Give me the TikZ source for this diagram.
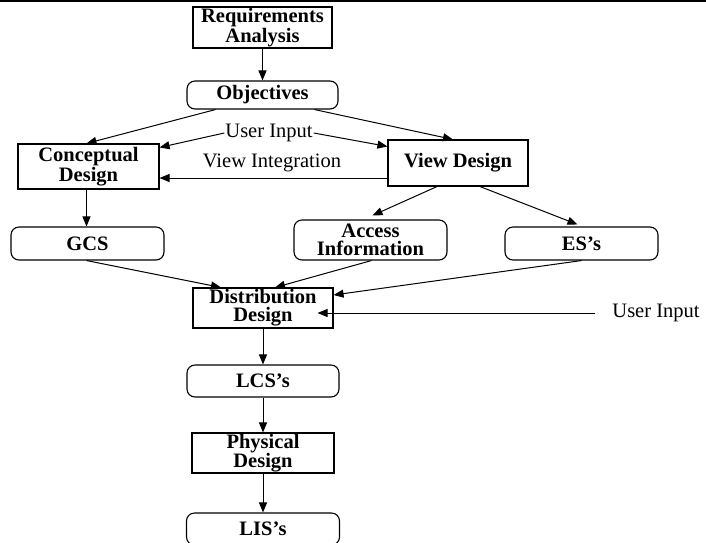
\documentclass[tikz,border=0pt]{standalone}
\usepackage{fontspec}
\setmainfont{Liberation Serif}
\usetikzlibrary{arrows.meta,calc}
\begin{document}
\begin{tikzpicture}[x=1pt,y=-1pt,
  box/.style={draw, line width=1.1pt, inner sep=0pt, align=center,
    font=\bfseries\fontsize{20.5}{18}\selectfont},
  rbox/.style={box, rounded corners=8pt},
  lbl/.style={font=\fontsize{20.5}{20.5}\selectfont, inner sep=1pt},
  arr/.style={-{Triangle[length=10pt,width=8pt]}, line width=1pt}]
\useasboundingbox (0,0) rectangle (706,542);
\draw[line width=2pt] (0,0.5) -- (706,0.5);

\node[box, minimum width=139pt, minimum height=41pt] (req) at (262.5,27.5) {Requirements\\Analysis};
\node[rbox, minimum width=151pt, minimum height=28pt] (obj) at (262.5,95) {Objectives};
\node[box, minimum width=141pt, minimum height=45pt] (concept) at (88.5,166.5) {Conceptual\\Design};
\node[box, minimum width=140pt, minimum height=46pt] (view) at (458,163) {View Design};
\node[rbox, minimum width=153pt, minimum height=33pt] (gcs) at (87.5,243.5) {GCS};
\node[rbox, minimum width=153pt, minimum height=40pt] (access) at (370.5,240) {Access\\Information};
\node[rbox, minimum width=153pt, minimum height=33pt] (es) at (581.5,243.5) {ES's};
\node[box, minimum width=140pt, minimum height=40pt] (dist) at (263,308) {Distribution\\Design};
\node[rbox, minimum width=152pt, minimum height=32pt] (lcs) at (263,381) {LCS's};
\node[box, minimum width=142pt, minimum height=40pt] (phys) at (263,453) {Physical\\Design};
\node[rbox, minimum width=153pt, minimum height=32pt] (lis) at (263,529) {LIS's};

\node[lbl] (ui1) at (269,133) {User Input};
\node[lbl] (vi) at (272,163) {View Integration};
\node[lbl] (ui2) at (656,313) {User Input};

\draw[arr] (req.south) -- (obj.north);
\draw[arr] ([xshift=-47pt]obj.south) -- ([xshift=-2pt]concept.north);
\draw[arr] ([xshift=52pt]obj.south) -- ([xshift=-5pt]view.north);
\draw[arr] (ui1.west) -- ([yshift=-4pt]concept.north east);
\draw[arr] (ui1.east) -- ([yshift=-7pt]view.north west);
\draw[arr] ([yshift=-15pt]view.west) -- ([yshift=-15pt]view.west -| concept.east);
\draw[arr] ([xshift=-2pt]concept.south) -- ([xshift=-2pt]concept.south |- gcs.north);
\draw[arr] ([xshift=-21pt]view.south) -- ([xshift=2pt,yshift=4pt]access.north);
\draw[arr] ([xshift=22pt]view.south) -- ([xshift=-4pt,yshift=2pt]es.north);
\draw[arr] ([xshift=-1pt]gcs.south) -- ([xshift=-42pt]dist.north);
\draw[arr] ([xshift=1pt]access.south) -- ([xshift=12pt]dist.north);
\draw[arr] (es.south) -- ([yshift=13pt]dist.east);
\draw[arr] ([xshift=-16pt]ui2.west) -- ([xshift=-16pt]ui2.west -| dist.east);
\draw[arr] (dist.south) -- (lcs.north);
\draw[arr] (lcs.south) -- (phys.north);
\draw[arr] (phys.south) -- (lis.north);
\end{tikzpicture}
\end{document}
